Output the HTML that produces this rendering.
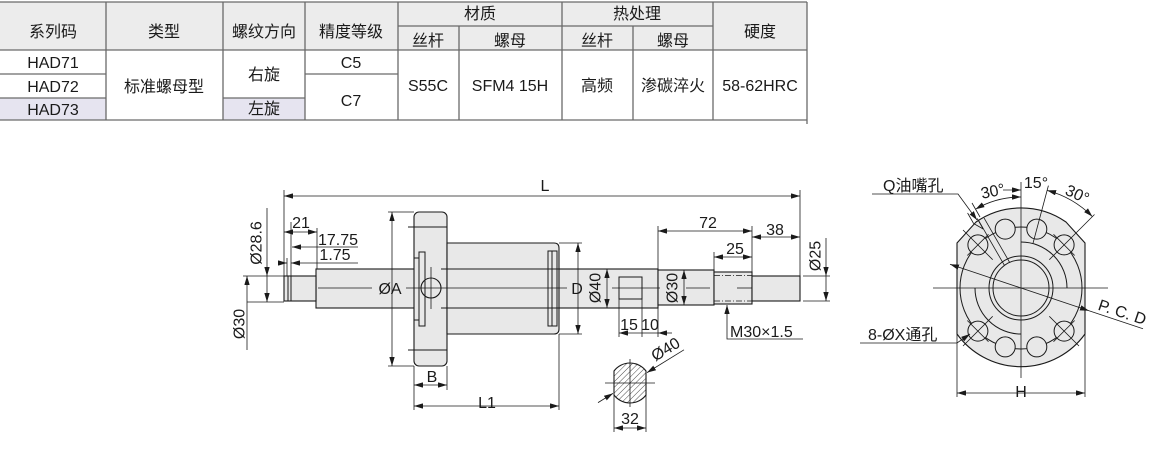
<!DOCTYPE html>
<html><head><meta charset="utf-8"><style>
html,body{margin:0;padding:0;background:#fff;}
svg{display:block;}
text{font-family:"Liberation Sans","Noto Sans CJK SC",sans-serif;fill:#1a1a1a;}
</style></head><body>
<svg width="1167" height="454" viewBox="0 0 1167 454" xmlns="http://www.w3.org/2000/svg">
<defs>
<marker id="ar" viewBox="0 0 10 6" refX="10" refY="3" markerWidth="9" markerHeight="5.4" markerUnits="userSpaceOnUse" orient="auto-start-reverse"><path d="M0,0L10,3L0,6z" fill="#1a1a1a"/></marker>
<pattern id="hat" width="4" height="4" patternUnits="userSpaceOnUse" patternTransform="rotate(45)"><line x1="0" y1="0" x2="0" y2="4" stroke="#333" stroke-width="0.9"/></pattern>
</defs>

<!-- ===== TABLE ===== -->
<rect x="0" y="2" width="807" height="48" fill="#ececec"/>
<rect x="0" y="98" width="106" height="22" fill="#e6e4f0"/>
<rect x="223" y="98" width="82" height="22" fill="#e6e4f0"/>
<g stroke="#6a6a6a" stroke-width="1.3" fill="none">
<line x1="0" y1="2" x2="807" y2="2"/>
<line x1="398" y1="26" x2="713" y2="26"/>
<line x1="0" y1="50" x2="807" y2="50"/>
<line x1="0" y1="74" x2="106" y2="74"/>
<line x1="305" y1="74" x2="398" y2="74"/>
<line x1="0" y1="98" x2="106" y2="98"/>
<line x1="223" y1="98" x2="305" y2="98"/>
<line x1="0" y1="120" x2="807" y2="120"/>
<line x1="106" y1="2" x2="106" y2="120"/>
<line x1="223" y1="2" x2="223" y2="120"/>
<line x1="305" y1="2" x2="305" y2="120"/>
<line x1="398" y1="2" x2="398" y2="120"/>
<line x1="459" y1="26" x2="459" y2="120"/>
<line x1="562" y1="2" x2="562" y2="120"/>
<line x1="633" y1="26" x2="633" y2="120"/>
<line x1="713" y1="2" x2="713" y2="120"/>
<line x1="807" y1="2" x2="807" y2="124"/>
</g>
<g font-size="16" text-anchor="middle">
<text x="53" y="37">系列码</text>
<text x="164" y="37">类型</text>
<text x="264" y="37">螺纹方向</text>
<text x="351" y="37">精度等级</text>
<text x="480" y="19">材质</text>
<text x="637" y="19">热处理</text>
<text x="760" y="37">硬度</text>
<text x="428" y="46">丝杆</text>
<text x="510" y="46">螺母</text>
<text x="597" y="46">丝杆</text>
<text x="673" y="46">螺母</text>
<text x="53" y="68">HAD71</text>
<text x="53" y="92">HAD72</text>
<text x="53" y="115">HAD73</text>
<text x="164" y="92">标准螺母型</text>
<text x="264" y="80">右旋</text>
<text x="264" y="114">左旋</text>
<text x="351" y="68">C5</text>
<text x="351" y="106">C7</text>
<text x="428" y="91">S55C</text>
<text x="510" y="91">SFM4 15H</text>
<text x="597" y="91">高频</text>
<text x="673" y="91">渗碳淬火</text>
<text x="760" y="91">58-62HRC</text>
</g>

<!-- ===== LEFT DRAWING ===== -->
<g stroke="#1a1a1a" stroke-width="1.1" fill="#e8e8e8">
<rect x="316" y="269" width="342" height="39"/>
<rect x="284" y="276" width="32" height="25"/>
<rect x="658" y="270" width="56" height="35"/>
<rect x="714" y="272" width="38" height="32"/>
<rect x="752" y="276" width="48" height="25"/>
<rect x="414" y="212" width="33" height="154" rx="5"/>
<path d="M447,243 H554 Q559,243 559,248 V329 Q559,334 554,334 H447 Z"/>
<circle cx="431" cy="288" r="10"/>
</g>
<g stroke="#1a1a1a" stroke-width="1" fill="none">
<line x1="288" y1="276" x2="288" y2="301"/>
<line x1="291" y1="276" x2="291" y2="301"/>
<line x1="441" y1="269" x2="658" y2="269"/>
<line x1="441" y1="308" x2="658" y2="308"/>
<line x1="408" y1="227" x2="447" y2="227"/>
<line x1="408" y1="350" x2="447" y2="350"/>
<rect x="419" y="252" width="6" height="74"/>
<line x1="414" y1="258" x2="419" y2="258"/>
<line x1="414" y1="320" x2="419" y2="320"/>
<rect x="548" y="251" width="9" height="75"/>
<line x1="552" y1="251" x2="552" y2="326"/>
<rect x="619" y="277" width="23" height="22"/>
<line x1="714" y1="275.5" x2="752" y2="275.5" stroke-dasharray="6 2 1 2" stroke-width="0.8"/>
<line x1="714" y1="301" x2="752" y2="301" stroke-dasharray="6 2 1 2" stroke-width="0.8"/>
</g>
<!-- center lines -->
<g stroke="#1a1a1a" stroke-width="0.8">
<line x1="318" y1="288" x2="372" y2="288"/>
<line x1="406" y1="288" x2="567" y2="288"/>
<line x1="612" y1="288" x2="660" y2="288"/>
<line x1="686" y1="288" x2="710" y2="288"/>
<line x1="737" y1="288" x2="752" y2="288"/>
<line x1="431" y1="267" x2="431" y2="309"/>
</g>
<!-- dimension lines -->
<g stroke="#1a1a1a" stroke-width="0.8" fill="none">
<!-- extension lines -->
<line x1="284" y1="190" x2="284" y2="276"/>
<line x1="800" y1="190" x2="800" y2="276"/>
<line x1="317" y1="228" x2="317" y2="269"/>
<line x1="291" y1="222" x2="291" y2="276"/>
<line x1="287" y1="258" x2="287" y2="276"/>
<line x1="263" y1="276" x2="284" y2="276"/>
<line x1="243" y1="276" x2="263" y2="276"/>
<line x1="247" y1="302" x2="284" y2="302"/>
<line x1="388" y1="212" x2="414" y2="212"/>
<line x1="388" y1="366" x2="414" y2="366"/>
<line x1="414" y1="366" x2="414" y2="410"/>
<line x1="447" y1="366" x2="447" y2="390"/>
<line x1="559" y1="334" x2="559" y2="410"/>
<line x1="559" y1="243" x2="582" y2="243"/>
<line x1="559" y1="334" x2="582" y2="334"/>
<line x1="619" y1="299" x2="619" y2="337"/>
<line x1="642" y1="299" x2="642" y2="337"/>
<line x1="658" y1="305" x2="658" y2="337"/>
<line x1="658" y1="226" x2="658" y2="270"/>
<line x1="752" y1="226" x2="752" y2="272"/>
<line x1="714" y1="252" x2="714" y2="272"/>
<line x1="803" y1="276" x2="830" y2="276"/>
<line x1="803" y1="301" x2="830" y2="301"/>
<!-- dims with arrows -->
<line x1="284" y1="196" x2="800" y2="196" marker-start="url(#ar)" marker-end="url(#ar)"/>
<line x1="284" y1="232" x2="317" y2="232" marker-start="url(#ar)" marker-end="url(#ar)"/>
<line x1="292" y1="247" x2="358" y2="247" marker-start="url(#ar)"/>
<line x1="278" y1="263" x2="287" y2="263" marker-end="url(#ar)"/>
<line x1="291" y1="263" x2="358" y2="263" marker-start="url(#ar)"/>
<line x1="267" y1="208" x2="267" y2="276" marker-end="url(#ar)"/>
<line x1="267" y1="276" x2="267" y2="302" marker-end="url(#ar)"/>
<line x1="247" y1="276" x2="247" y2="350" marker-start="url(#ar)"/>
<line x1="392" y1="212" x2="392" y2="366" marker-start="url(#ar)" marker-end="url(#ar)"/>
<line x1="414" y1="385" x2="447" y2="385" marker-start="url(#ar)" marker-end="url(#ar)"/>
<line x1="414" y1="406" x2="559" y2="406" marker-start="url(#ar)" marker-end="url(#ar)"/>
<line x1="578" y1="243" x2="578" y2="334" marker-start="url(#ar)" marker-end="url(#ar)"/>
<line x1="607" y1="269" x2="607" y2="308" marker-start="url(#ar)" marker-end="url(#ar)"/>
<line x1="684" y1="270" x2="684" y2="305" marker-start="url(#ar)" marker-end="url(#ar)"/>
<line x1="619" y1="333" x2="642" y2="333" marker-start="url(#ar)"/>
<line x1="642" y1="333" x2="658" y2="333"/>
<line x1="672" y1="333" x2="658" y2="333" marker-end="url(#ar)"/>
<line x1="658" y1="231" x2="752" y2="231" marker-start="url(#ar)" marker-end="url(#ar)"/>
<line x1="752" y1="237" x2="800" y2="237" marker-start="url(#ar)" marker-end="url(#ar)"/>
<line x1="714" y1="257" x2="752" y2="257" marker-start="url(#ar)" marker-end="url(#ar)"/>
<line x1="826" y1="238" x2="826" y2="276" marker-end="url(#ar)"/>
<line x1="826" y1="276" x2="826" y2="301" marker-end="url(#ar)"/>
<polyline points="727,305 727,339 803,339" marker-start="url(#ar)"/>
</g>
<!-- section view -->
<path d="M614,371 A20,20 0 0 1 646,371 L646,395 A20,20 0 0 1 614,395 Z" fill="url(#hat)" stroke="#1a1a1a" stroke-width="1.1"/>
<g stroke="#1a1a1a" stroke-width="0.8" fill="none">
<line x1="605" y1="383" x2="655" y2="383"/>
<line x1="630" y1="359" x2="630" y2="407"/>
<line x1="598" y1="402.6" x2="613" y2="393.4" marker-end="url(#ar)"/>
<line x1="684" y1="349.8" x2="647" y2="372.6" marker-end="url(#ar)"/>
<line x1="614" y1="395" x2="614" y2="432"/>
<line x1="646" y1="395" x2="646" y2="432"/>
<line x1="614" y1="428" x2="646" y2="428" marker-start="url(#ar)" marker-end="url(#ar)"/>
</g>
<!-- left labels -->
<g font-size="16">
<text x="545" y="191" text-anchor="middle">L</text>
<text x="301" y="228" text-anchor="middle">21</text>
<text x="338" y="245" text-anchor="middle">17.75</text>
<text x="335" y="260" text-anchor="middle">1.75</text>
<text transform="translate(257,243) rotate(-90)" text-anchor="middle" dominant-baseline="central">Ø28.6</text>
<text transform="translate(240,324) rotate(-90)" text-anchor="middle" dominant-baseline="central">Ø30</text>
<text x="390" y="294" text-anchor="middle">ØA</text>
<text x="432" y="382" text-anchor="middle">B</text>
<text x="487" y="408" text-anchor="middle">L1</text>
<text x="577" y="294" text-anchor="middle">D</text>
<text transform="translate(596,288) rotate(-90)" text-anchor="middle" dominant-baseline="central">Ø40</text>
<text x="629" y="330" text-anchor="middle">15</text>
<text x="650" y="330" text-anchor="middle">10</text>
<text transform="translate(673,288) rotate(-90)" text-anchor="middle" dominant-baseline="central">Ø30</text>
<text x="708" y="228" text-anchor="middle">72</text>
<text x="775" y="235" text-anchor="middle">38</text>
<text x="735" y="254" text-anchor="middle">25</text>
<text transform="translate(816,256) rotate(-90)" text-anchor="middle" dominant-baseline="central">Ø25</text>
<text x="730" y="337">M30×1.5</text>
<text transform="translate(666,350) rotate(-31)" text-anchor="middle" dominant-baseline="central">Ø40</text>
<text x="630" y="424" text-anchor="middle">32</text>
</g>

<!-- ===== RIGHT DRAWING ===== -->
<path d="M957,243 L976,222 A79,79 0 0 1 1066,222 L1085,243 L1085,334 A79,79 0 0 1 957,334 Z" fill="#e8e8e8" stroke="#1a1a1a" stroke-width="1.1"/>
<g stroke="#1a1a1a" stroke-width="1" fill="none">
<circle cx="1021" cy="288" r="28"/>
<circle cx="1021" cy="288" r="32"/>
<circle cx="1021" cy="288" r="61"/>
<path d="M1021,242 A46,46 0 0 1 1067,288"/>
<path d="M975,288 A46,46 0 0 0 1021,334"/>
</g>
<g stroke="#1a1a1a" stroke-width="1" fill="#e8e8e8">
<circle cx="1036.8" cy="229.1" r="10"/>
<circle cx="1005.2" cy="229.1" r="10"/>
<circle cx="1064.1" cy="244.9" r="10"/>
<circle cx="977.9" cy="244.9" r="10"/>
<circle cx="1064.1" cy="331.1" r="10"/>
<circle cx="977.9" cy="331.1" r="10"/>
<circle cx="1036.8" cy="346.9" r="10"/>
<circle cx="1005.2" cy="346.9" r="10"/>
</g>
<g stroke="#1a1a1a" stroke-width="0.8" fill="none">
<!-- center lines -->
<line x1="1021" y1="182" x2="1021" y2="378"/>
<line x1="933" y1="288" x2="1108" y2="288"/>
<!-- hole crosses -->
<line x1="1049.3" y1="259.7" x2="1094.5" y2="214.5"/>
<line x1="1053.5" y1="234.3" x2="1074.7" y2="255.5"/>
<line x1="992.7" y1="259.7" x2="963" y2="230"/>
<line x1="988.5" y1="234.3" x2="967.3" y2="255.5"/>
<line x1="1049.3" y1="316.3" x2="1079" y2="346"/>
<line x1="1053.5" y1="341.7" x2="1074.7" y2="320.5"/>
<line x1="992.7" y1="316.3" x2="963" y2="346"/>
<line x1="967.3" y1="320.5" x2="988.5" y2="341.7"/>
<line x1="1032.9" y1="243.6" x2="1048.4" y2="185.6"/>
<!-- oil channel -->
<line x1="1009.6" y1="262.3" x2="984.1" y2="218.1"/>
<line x1="1004.4" y1="265.3" x2="978.9" y2="221.1"/>
<line x1="983.2" y1="229" x2="973.6" y2="223.5"/>
<line x1="973.6" y1="223.5" x2="967.6" y2="213"/>
<line x1="983.2" y1="229" x2="977.2" y2="218.5"/>
<line x1="980" y1="217" x2="972" y2="203"/>
<!-- angular dims -->
<path d="M975.5,209.2 A91,91 0 0 1 1021,197" marker-start="url(#ar)" marker-end="url(#ar)"/>
<path d="M1047.1,190.4 A101,101 0 0 1 1092.4,216.6" marker-start="url(#ar)" marker-end="url(#ar)"/>
<line x1="1003" y1="190" x2="1021" y2="190" marker-end="url(#ar)"/>
<!-- leaders -->
<polyline points="872,194 958,194 977,220" marker-end="url(#ar)"/>
<polyline points="860,343 957,343 970,334" marker-end="url(#ar)"/>
<line x1="950" y1="264.3" x2="1089" y2="310.7" marker-start="url(#ar)" marker-end="url(#ar)"/>
<line x1="1089" y1="310.7" x2="1143" y2="328.7"/>
<!-- H -->
<line x1="957" y1="334" x2="957" y2="397"/>
<line x1="1085" y1="334" x2="1085" y2="397"/>
<line x1="957" y1="393" x2="1085" y2="393" marker-start="url(#ar)" marker-end="url(#ar)"/>
</g>
<g font-size="16">
<text x="883" y="191">Q油嘴孔</text>
<text x="868" y="340">8-ØX通孔</text>
<text transform="translate(993,192) rotate(-12)" text-anchor="middle" dominant-baseline="central">30°</text>
<text x="1036" y="188" text-anchor="middle">15°</text>
<text transform="translate(1077,195) rotate(25)" text-anchor="middle" dominant-baseline="central">30°</text>
<text transform="translate(1122,313) rotate(18.4)" text-anchor="middle" dominant-baseline="central">P. C. D</text>
<text x="1021" y="397" text-anchor="middle">H</text>
</g>
</svg>
</body></html>
